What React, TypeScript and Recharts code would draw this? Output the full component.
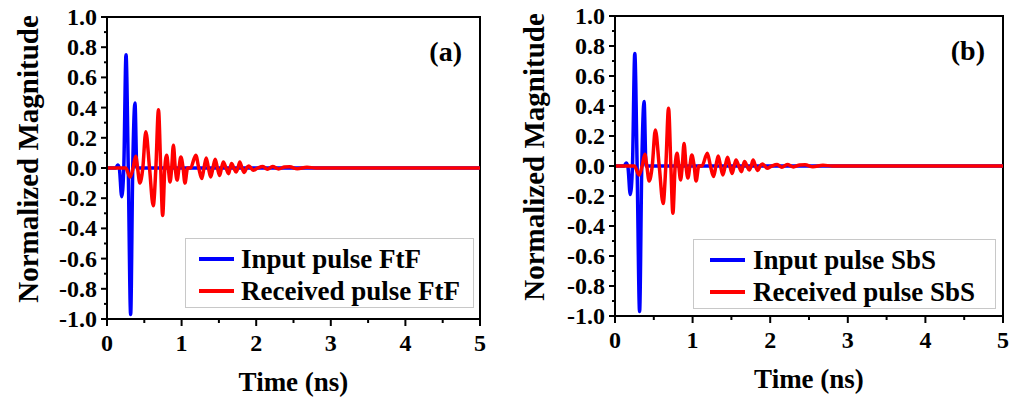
import { LineChart, Line, XAxis, YAxis, ReferenceArea, Legend } from "recharts";

// Input pulse (blue): peaks and zero crossings, time in ns
const inputTime = [0, 0.12, 0.143, 0.165, 0.197, 0.225, 0.255, 0.285, 0.317, 0.345, 0.375, 0.4, 0.45, 5];
const inputMag = [0, 0, 0.02, 0, -0.19, 0, 0.75, 0, -0.97, 0, 0.43, 0, 0, 0];

// Received pulse (red): ringing tail after the link
const receivedTime = [
  0, 0.25, 0.31, 0.35, 0.385, 0.41, 0.44, 0.48, 0.52, 0.57, 0.62, 0.655, 0.69, 0.72, 0.746,
  0.775, 0.8, 0.822, 0.845, 0.867, 0.89, 0.915, 0.94, 0.965, 0.99, 1.02, 1.045, 1.08, 1.12,
  1.19, 1.23, 1.27, 1.3, 1.33, 1.36, 1.39, 1.42, 1.45, 1.48, 1.51, 1.535, 1.56, 1.595, 1.63,
  1.65, 1.67, 1.7, 1.73, 1.755, 1.78, 1.81, 1.84, 1.87, 1.9, 1.93, 1.96, 2.02, 2.09, 2.15,
  2.22, 2.3, 2.38, 2.45, 2.55, 2.68, 2.8, 5,
];
const receivedMag = [
  0, 0, -0.06, 0, 0.078, 0, -0.1, 0, 0.24, 0, -0.25, 0, 0.385, 0, -0.315,
  0, 0.085, 0, -0.093, 0, 0.15, 0, -0.08, 0, 0.073, 0, -0.1, 0, 0,
  0.085, 0, -0.07, 0, 0.067, 0, -0.06, 0, 0.058, 0, -0.05, 0, 0.04, 0, -0.038,
  0, 0.03, 0, -0.027, 0, 0.04, 0, -0.03, 0, 0.013, 0, -0.015, 0, 0.01, -0.008,
  0.01, -0.006, 0.006, 0.008, -0.005, 0.005, 0, 0,
];

const xTicks = [0, 0.5, 1, 1.5, 2, 2.5, 3, 3.5, 4, 4.5, 5];
const yTicks = [-1, -0.9, -0.8, -0.7, -0.6, -0.5, -0.4, -0.3, -0.2, -0.1, 0, 0.1, 0.2, 0.3, 0.4, 0.5, 0.6, 0.7, 0.8, 0.9, 1];

const inputData = inputTime.map((t, i) => ({ t, v: inputMag[i] }));
const receivedData = receivedTime.map((t, i) => ({ t, v: receivedMag[i] }));

const SERIF = '"Liberation Serif", "Times New Roman", serif';
const BLUE = "#0000ff";
const RED = "#ff0000";

function XTick({ x, y, payload }: any) {
  const major = Number.isInteger(payload.value);
  return (
    <g>
      <line x1={x} x2={x} y1={y} y2={y + (major ? 7 : 4)} stroke="#000" strokeWidth={2} />
      {major && (
        <text x={x} y={y + 32} textAnchor="middle" fontFamily={SERIF} fontWeight={700} fontSize={24} fill="#000">
          {payload.value}
        </text>
      )}
    </g>
  );
}

function YTick({ x, y, payload }: any) {
  const major = Math.round(payload.value * 10) % 2 === 0;
  return (
    <g>
      <line x1={x - (major ? 6 : 3)} x2={x} y1={y} y2={y} stroke="#000" strokeWidth={2} />
      {major && (
        <text x={x - 10} y={y + 8} textAnchor="end" fontFamily={SERIF} fontWeight={700} fontSize={24} fill="#000">
          {payload.value.toFixed(1)}
        </text>
      )}
    </g>
  );
}

function LegendBox({ payload, pad }: any) {
  return (
    <div
      style={{
        border: "1px solid #c8c8c8",
        background: "#fff",
        padding: `4px ${pad[1]}px 0 ${pad[0]}px`,
        fontFamily: SERIF,
        fontWeight: 700,
        fontSize: 27,
        color: "#000",
        whiteSpace: "nowrap",
      }}
    >
      {(payload || []).map((p: any) => (
        <div key={p.value} style={{ height: 32, display: "flex", alignItems: "center" }}>
          <span style={{ display: "inline-block", width: 35, height: 4, background: p.color, marginRight: pad[2] }} />
          <span>{p.value}</span>
        </div>
      ))}
    </div>
  );
}

type PanelProps = {
  left: number;
  width: number;
  top: number;
  right: number;
  yAxisWidth: number;
  xAxisHeight: number;
  tag: string;
  inputName: string;
  receivedName: string;
  legendLeft: number;
  legendTop: number;
  legendPad: number[];
  yTitleX: number;
};

function Panel(p: PanelProps) {
  return (
    <div style={{ position: "absolute", left: p.left, top: 0 }}>
      <LineChart
        width={p.width}
        height={401}
        margin={{ top: p.top, right: p.right, bottom: 0, left: 0 }}
      >
        <XAxis
          dataKey="t"
          type="number"
          domain={[0, 5]}
          ticks={xTicks}
          interval={0}
          height={p.xAxisHeight}
          tickSize={0}
          tickMargin={0}
          tick={<XTick />}
          axisLine={{ stroke: "#000", strokeWidth: 2 }}
          allowDuplicatedCategory={false}
          label={({ viewBox }: any) => (
            <text
              x={viewBox.x + viewBox.width / 2}
              y={viewBox.y + 72}
              textAnchor="middle"
              fontFamily={SERIF}
              fontWeight={700}
              fontSize={27}
              fill="#000"
            >
              Time (ns)
            </text>
          )}
        />
        <YAxis
          type="number"
          domain={[-1, 1]}
          ticks={yTicks}
          interval={0}
          width={p.yAxisWidth}
          tickSize={0}
          tickMargin={0}
          tick={<YTick />}
          axisLine={{ stroke: "#000", strokeWidth: 2 }}
          label={({ viewBox }: any) => {
            const cy = viewBox.y + viewBox.height / 2 - 9;
            return (
              <text
                x={p.yTitleX}
                y={cy}
                transform={`rotate(-90, ${p.yTitleX}, ${cy})`}
                textAnchor="middle"
                fontFamily={SERIF}
                fontWeight={700}
                fontSize={29}
                fill="#000"
              >
                Normalized Magnitude
              </text>
            );
          }}
        />
        <ReferenceArea
          x1={0}
          x2={5}
          y1={-1}
          y2={1}
          fill="none"
          stroke="#000"
          strokeWidth={2}
          label={({ viewBox }: any) => (
            <text
              x={viewBox.x + viewBox.width - 18}
              y={viewBox.y + 44}
              textAnchor="end"
              fontFamily={SERIF}
              fontWeight={700}
              fontSize={28}
              fill="#000"
            >
              {p.tag}
            </text>
          )}
        />
        <Line
          data={inputData}
          dataKey="v"
          name={p.inputName}
          type="monotone"
          stroke={BLUE}
          strokeWidth={3.5}
          dot={false}
          isAnimationActive={false}
        />
        <Line
          data={receivedData}
          dataKey="v"
          name={p.receivedName}
          type="monotone"
          stroke={RED}
          strokeWidth={3.5}
          dot={false}
          isAnimationActive={false}
        />
        <Legend
          layout="vertical"
          align="center"
          verticalAlign="middle"
          wrapperStyle={{ left: p.legendLeft, top: p.legendTop, width: "auto", height: "auto" }}
          content={(props: any) => <LegendBox payload={props.payload} pad={p.legendPad} />}
        />
      </LineChart>
    </div>
  );
}

export default function App() {
  return (
    <div style={{ position: "absolute", left: 0, top: 0, width: 1016, height: 401, background: "#fff" }}>
      <Panel
        left={0}
        width={500}
        top={17}
        right={20}
        yAxisWidth={107}
        xAxisHeight={82}
        tag="(a)"
        inputName="Input pulse FtF"
        receivedName="Received pulse FtF"
        legendLeft={185}
        legendTop={238}
        legendPad={[13, 13, 7]}
        yTitleX={38}
      />
      <Panel
        left={500}
        width={516}
        top={16}
        right={13}
        yAxisWidth={115}
        xAxisHeight={85}
        tag="(b)"
        inputName="Input pulse SbS"
        receivedName="Received pulse SbS"
        legendLeft={193}
        legendTop={239}
        legendPad={[16, 20, 8]}
        yTitleX={44}
      />
    </div>
  );
}
